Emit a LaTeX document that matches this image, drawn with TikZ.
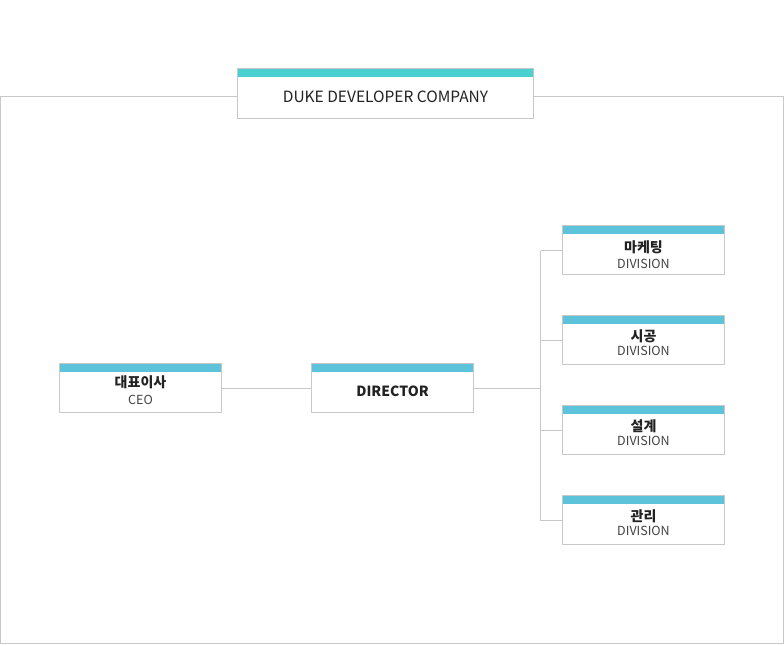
\documentclass[tikz,border=0pt]{standalone}
\usepackage{fontspec}
\setmainfont{Noto Sans CJK KR}
\definecolor{frameln}{HTML}{C8C8C8}
\definecolor{teal}{HTML}{4AD0CE}
\definecolor{barblue}{HTML}{5CC3DB}
\definecolor{txtdark}{HTML}{222222}
\definecolor{txtgrey}{HTML}{444444}
\tikzset{
  orgbox/.style={draw=frameln, line width=1pt, fill=white, minimum width=162pt, minimum height=49pt, inner sep=0pt, outer sep=0pt, anchor=north west,
    path picture={\fill[barblue] (path picture bounding box.north west) rectangle ([yshift=-8pt]path picture bounding box.north east);}},
  topbox/.style={draw=frameln, line width=1pt, fill=white, minimum width=296pt, minimum height=50pt, inner sep=0pt, outer sep=0pt, anchor=north west,
    path picture={\fill[teal] (path picture bounding box.north west) rectangle ([yshift=-8pt]path picture bounding box.north east);}},
  ttl/.style={font=\fontsize{14}{18}\selectfont\bfseries, text=txtdark, inner sep=0pt},
  sub/.style={font=\fontsize{12.5}{18}\selectfont, text=txtgrey, inner sep=0pt},
  conn/.style={draw=frameln, line width=1pt},
}
\begin{document}
\begin{tikzpicture}[x=1pt,y=-1pt]
\useasboundingbox (0,0) rectangle (784,645);
\fill[white] (0,0) rectangle (784,645);
\draw[frameln, line width=1pt] (0.5,96.5) rectangle (783.5,643.5);
% top box
\node[topbox] (top) at (237.5,68.5) {};
\node[font=\fontsize{15.5}{18}\selectfont, text=txtdark, inner sep=0pt] (toptxt) at (385.5,97) {DUKE DEVELOPER COMPANY};
% CEO
\node[orgbox] (ceo) at (59.5,363.5) {};
\node[ttl] (ceot) at (140.5,382.5) {대표이사};
\node[sub] (ceos) at (140.5,400) {CEO};
% Director
\node[orgbox] (dir) at (311.5,363.5) {};
\node[ttl] (dirt) at (392.5,391) {DIRECTOR};
% divisions
\node[orgbox] (d1) at (562.5,225.5) {};
\node[ttl] (d1t) at (643.5,247.5) {마케팅};
\node[sub] (d1s) at (643.5,263.5) {DIVISION};
\node[orgbox] (d2) at (562.5,315.5) {};
\node[ttl] (d2t) at (643.5,336) {시공};
\node[sub] (d2s) at (643.5,351) {DIVISION};
\node[orgbox] (d3) at (562.5,405.5) {};
\node[ttl] (d3t) at (643.5,426) {설계};
\node[sub] (d3s) at (643.5,441) {DIVISION};
\node[orgbox] (d4) at (562.5,495.5) {};
\node[ttl] (d4t) at (643.5,516) {관리};
\node[sub] (d4s) at (643.5,531) {DIVISION};
% connectors
\draw[conn] (ceo.east |- 0,388.5) -- (dir.west |- 0,388.5);
\draw[conn] (dir.east |- 0,388.5) -- (540.5,388.5);
\draw[conn] (540.5,250.5) -- (540.5,520.5);
\draw[conn] (540.5,250.5) -- (d1.west |- 0,250.5);
\draw[conn] (540.5,340.5) -- (d2.west |- 0,340.5);
\draw[conn] (540.5,430.5) -- (d3.west |- 0,430.5);
\draw[conn] (540.5,520.5) -- (d4.west |- 0,520.5);
\end{tikzpicture}
\end{document}
